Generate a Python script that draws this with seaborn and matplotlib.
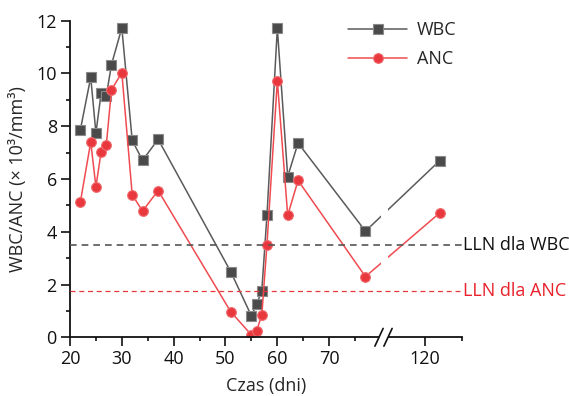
import numpy as np
import pandas as pd
import matplotlib
matplotlib.use("Agg")
import matplotlib.pyplot as plt
import matplotlib.transforms as mtransforms
import seaborn as sns

# ---- data ----
days = [22, 24, 25, 26, 27, 28, 30, 32, 34, 37, 51, 55, 56, 57, 58, 60, 62, 64, 77, 122]
wbc = [7.86, 9.85, 7.74, 9.24, 9.14, 10.33, 11.72, 7.46, 6.70, 7.50,
       2.49, 0.81, 1.25, 1.76, 4.62, 11.70, 6.09, 7.36, 4.02, 6.69]
anc = [5.12, 7.40, 5.70, 7.02, 7.27, 9.38, 10.02, 5.40, 4.78, 5.56,
       0.97, 0.09, 0.25, 0.84, 3.51, 9.72, 4.62, 5.94, 2.30, 4.71]
lln_wbc = 3.5
lln_anc = 1.75
x_major = [20, 30, 40, 50, 60, 70, 120]
x_minor = [25, 35, 45, 55, 65, 75, 125]
y_major = [0, 2, 4, 6, 8, 10, 12]
y_minor = [1, 3, 5, 7, 9, 11]

sns.set_style("ticks")
plt.rcParams['font.family'] = ['Open Sans', 'DejaVu Sans']
FS = 13

# broken x axis as a piecewise-linear scale
B1, B2, P2, K2 = 80.0, 115.0, 81.4, 1.417

def fwd(x):
    x = np.asarray(x, dtype=float)
    return np.where(x <= B1, x,
                    np.where(x >= B2, P2 + (x - B2) * K2,
                             B1 + (x - B1) * ((P2 - B1) / (B2 - B1))))

def inv(p):
    p = np.asarray(p, dtype=float)
    return np.where(p <= B1, p,
                    np.where(p >= P2, B2 + (p - P2) / K2,
                             B1 + (p - B1) * ((B2 - B1) / (P2 - B1))))

df = pd.DataFrame({"day": days, "WBC": wbc, "ANC": anc})

fig = plt.figure(figsize=(5.69, 3.96), dpi=100)
ax = fig.add_axes([70 / 569, 1 - 337.3 / 396, 391.7 / 569, 316.8 / 396])
ax.set_xscale('function', functions=(fwd, inv))

grey_line = '#5a5a5a'
red_line = '#ef4b50'
sns.lineplot(data=df, x="day", y="WBC", ax=ax, color=grey_line, lw=1.1,
             marker='s', markersize=6.5, markerfacecolor='#4a4a4a',
             markeredgecolor='#8a8a8a', markeredgewidth=0.8, label='WBC', zorder=2)
sns.lineplot(data=df, x="day", y="ANC", ax=ax, color=red_line, lw=1.1,
             marker='o', markersize=7, markerfacecolor='#e8383d',
             markeredgecolor='#f06a6e', markeredgewidth=0.8, label='ANC', zorder=2.1)

# gap in the data lines at the break
ax.axvspan(B1, B2, color='white', zorder=2.5, lw=0)

ax.axhline(lln_wbc, color='#555555', lw=1.2, ls=(0, (4, 3)), zorder=3)
ax.axhline(lln_anc, color='#e8383d', lw=0.9, ls=(0, (4, 3)), zorder=3)

trans = mtransforms.blended_transform_factory(ax.transAxes, ax.transData)
ax.text(1.004, lln_wbc, 'LLN dla WBC', transform=trans, fontsize=FS,
        color='#111111', va='center', ha='left')
ax.text(1.004, lln_anc, 'LLN dla ANC', transform=trans, fontsize=FS,
        color='#e8212b', va='center', ha='left')

ax.set_xlim(20, 125)
ax.set_ylim(0, 12)
ax.set_xticks(x_major)
ax.set_xticklabels([str(v) for v in x_major])
ax.set_xticks(x_minor, minor=True)
ax.set_yticks(y_major)
ax.set_yticklabels([str(v) for v in y_major])
ax.set_yticks(y_minor, minor=True)
ax.tick_params(axis='both', which='major', direction='out', length=6.5, width=1.2,
               labelsize=FS, pad=3, colors='#111111')
ax.tick_params(axis='both', which='minor', direction='out', length=3.2, width=1.2,
               colors='#111111')

for s in ['top', 'right']:
    ax.spines[s].set_visible(False)
for s in ['left', 'bottom']:
    ax.spines[s].set_linewidth(1.3)
    ax.spines[s].set_color('#111111')

ax.set_xlabel('Czas (dni)', fontsize=FS, labelpad=6)
ax.set_ylabel('WBC/ANC (× 10³/mm³)', fontsize=FS, labelpad=7)

# axis break marks
xa = (379 - 70) / 391.7
xb = (388 - 70) / 391.7
ax.add_patch(plt.Rectangle((xa, -0.012), xb - xa, 0.024, transform=ax.transAxes,
                           color='white', clip_on=False, zorder=5, lw=0))
dx, dy = 0.0105, 0.028
for xc in (xa, xb):
    ax.plot([xc - dx, xc + dx], [-dy, dy], transform=ax.transAxes, color='#111111',
            lw=1.2, clip_on=False, zorder=6)

leg = ax.legend(loc='upper left', bbox_to_anchor=(0.710, 0.998), frameon=False,
                fontsize=FS, handlelength=3.26, handletextpad=0.55,
                labelspacing=0.6, borderpad=0, borderaxespad=0)

fig.savefig('out.png', dpi=100)
